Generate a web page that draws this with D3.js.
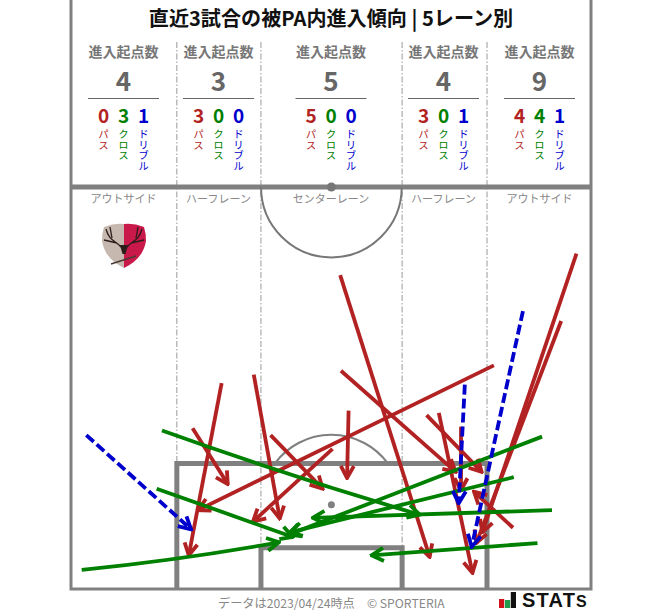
<!DOCTYPE html>
<html><head><meta charset="utf-8">
<script src="https://cdn.jsdelivr.net/npm/d3@7/dist/d3.min.js"></script>
<style>
html,body{margin:0;padding:0;background:#fff}
svg{display:block}
text{font-family:"Noto Sans CJK JP","Noto Sans",sans-serif}
</style></head><body>
<div id="chart"></div>
<script>
// ---- data (metres on the pitch: x across, y from the goal line) ----
const title = "直近3試合の被PA内進入傾向 | 5レーン別";
const lanes = ["アウトサイド","ハーフレーン","センターレーン","ハーフレーン","アウトサイド"];
const laneEdges = [0, 13.84, 24.84, 43.3, 54.4, 68];
const totals = [4,3,5,4,9];
const passCounts = [0,3,5,3,4];
const crossCounts = [3,0,0,0,4];
const dribbleCounts = [1,0,0,1,1];
const typeLabels = ["パス","クロス","ドリブル"];
const headerLabel = "進入起点数";
const passes = [
 [19.7,26.9,15.4,4.4],[15.9,21.0,20.5,13.7],[23.9,28.0,27.3,9.2],
 [26.1,20.1,32.9,13.1],[34.2,18.3,23.8,8.8],[36.3,23.3,36.1,14.5],
 [35.2,41.0,46.9,4.2],[35.3,28.5,50.3,15.3],[46.5,22.7,53.7,15.3],
 [48.1,23.0,52.5,2.1],[51.0,21.2,51.0,12.9],[55.3,29.2,16.6,10.3],
 [57.8,8.0,52.7,12.7],[66.1,43.8,53.8,7.4],[64.1,35.0,53.0,6.0]
];
const crosses = [
 [11.9,20.7,45.6,9.7],[11.2,13.1,29.0,6.8],[1.4,2.5,27.2,6.1],
 [61.6,19.9,28.5,7.1],[57.9,14.6,28.6,7.4],[62.9,10.3,31.6,9.3],[61.0,6.0,39.3,4.4]
];
const crossBends = [0.25,0,0.25,0,0,0,0];
const dribbles = [[2.0,20.1,15.7,7.8],[51.5,26.7,50.7,11.2],[59.1,36.3,52.4,5.5]];
const footer = "データは2023/04/24時点　© SPORTERIA";

// ---- layout ----
const W=663,H=611,RED="#b22222",GREEN="#008000",BLUE="#0000cd",LINE="#808080";
const x=d3.scaleLinear().domain([0,68]).range([71,591]);
const y=d3.scaleLinear().domain([0,52.5]).range([589,187]);
const r=m=>x(m)-x(0);
const svg=d3.select("#chart").append("svg").attr("width",W).attr("height",H);
const defs=svg.append("defs");
[["red",RED],["green",GREEN],["blue",BLUE]].forEach(([id,c])=>{
  defs.append("marker").attr("id","a-"+id).attr("markerUnits","userSpaceOnUse")
   .attr("viewBox","-16 -9 18 18").attr("refX",0).attr("refY",0)
   .attr("markerWidth",18).attr("markerHeight",18).attr("orient","auto")
   .append("path").attr("d","M-12,-6.5L0,0L-12,6.5").attr("fill","none").attr("stroke",c).attr("stroke-width",3.8);
});

// lane separators
svg.append("g").selectAll("line").data(laneEdges.slice(1,-1)).join("line")
  .attr("x1",d=>x(d)).attr("x2",d=>x(d)).attr("y1",42).attr("y2",(d,i)=>(i==1||i==2)?y(5.4):y(16.4))
  .attr("stroke","#999").attr("stroke-width",1).attr("stroke-dasharray","6,2,1.5,2");

// pitch
const pitch=svg.append("g").attr("fill","none").attr("stroke",LINE);
pitch.append("path").attr("d",`M${x(0)},0V${y(0)}H${x(68)}V0`).attr("stroke-width",3);
pitch.append("line").attr("x1",x(0)).attr("x2",x(68)).attr("y1",y(52.5)).attr("y2",y(52.5)).attr("stroke-width",5);
pitch.append("path").attr("d",`M${x(laneEdges[1])},${y(0)}V${y(16.4)}H${x(laneEdges[4])}V${y(0)}`).attr("stroke-width",5);
pitch.append("path").attr("d",`M${x(laneEdges[2])},${y(0)}V${y(5.4)}H${x(laneEdges[3])}V${y(0)}`).attr("stroke-width",5);
const arc=d3.arc();
pitch.append("path").attr("transform",`translate(${x(34.05)},${y(52.5)})`).attr("stroke","#777").attr("stroke-width",2)
  .attr("d",arc({innerRadius:r(9.2),outerRadius:r(9.2),startAngle:Math.PI/2,endAngle:Math.PI*1.5}));
const aa=Math.acos(5.5/9.15);
pitch.append("path").attr("transform",`translate(${x(34.05)},${y(11)})`).attr("stroke","#808080").attr("stroke-width",2)
  .attr("d",arc({innerRadius:r(9.15),outerRadius:r(9.15),startAngle:-aa,endAngle:aa}));
svg.append("circle").attr("cx",x(34.05)).attr("cy",y(52.5)).attr("r",4.5).attr("fill","#777");
svg.append("circle").attr("cx",x(34.05)).attr("cy",y(11)).attr("r",3.5).attr("fill","#808080");

// title
svg.append("text").attr("x",331).attr("y",26).attr("text-anchor","middle")
  .attr("font-size",20.1).attr("font-weight",700).attr("fill","#111").text(title);

// headers
const centers=[123.5,218.5,331,443.5,539.5];
const typeColors=[RED,GREEN,BLUE];
const head=svg.append("g").selectAll("g").data(totals).join("g").attr("transform",(d,i)=>`translate(${centers[i]},0)`);
head.append("text").attr("y",57).attr("text-anchor","middle").attr("font-size",14).attr("font-weight",700).attr("fill","#777").text(headerLabel);
head.append("text").attr("y",91).attr("text-anchor","middle").attr("font-size",26).attr("font-weight",700).attr("fill","#666").text(d=>d);
head.append("line").attr("x1",-35.5).attr("x2",35.5).attr("y1",98.5).attr("y2",98.5).attr("stroke","#666").attr("stroke-width",1);
[passCounts,crossCounts,dribbleCounts].forEach((arr,t)=>{
  const dx=(t-1)*20;
  head.append("text").attr("x",dx).attr("y",123).attr("text-anchor","middle").attr("font-size",19).attr("font-weight",700)
    .attr("fill",typeColors[t]).text((d,i)=>arr[i]);
  head.append("text").attr("transform",`translate(${dx},129)`).attr("writing-mode","vertical-rl").attr("font-size",10.5)
    .attr("fill",typeColors[t]).attr("dominant-baseline","central").text(typeLabels[t]);
});

// lane labels
svg.append("g").selectAll("text").data(lanes).join("text")
  .attr("x",(d,i)=>centers[i]).attr("y",203).attr("text-anchor","middle").attr("font-size",11).attr("fill","#888").text(d=>d);

// emblem
const em=svg.append("g").attr("transform","translate(124,223)");
em.append("path").attr("d","M-20,4Q-10,0 0,1V45Q-19,36 -22,18Q-22,10 -20,4Z").attr("fill","#c6b8ae");
em.append("path").attr("d","M20,4Q10,0 0,1V45Q19,36 22,18Q22,10 20,4Z").attr("fill","#c9184a");
em.append("path").attr("fill","none").attr("stroke","#2b1d1a").attr("stroke-width",1.3)
 .attr("d","M-3,24C-8,18 -15,18 -18,6M-12,15L-14,4M-7,20L-20,17M3,24C8,18 15,18 18,6M12,15L14,4M7,20L20,17");
em.append("path").attr("d","M-4,22H4L1.5,31H-1.5Z").attr("fill","#2b1d1a");
em.append("path").attr("d","M-13,41L12,33").attr("stroke","#4a3a36").attr("stroke-width",1.4);

// arrows
function arrow(g,data,color,id,opts={}){
  g.selectAll("path").data(data).join("path").attr("fill","none").attr("stroke",color).attr("stroke-width",3.8)
   .attr("stroke-dasharray",opts.dash||null).attr("marker-end",`url(#a-${id})`)
   .attr("d",(d,i)=>{
     const x0=x(d[0]),y0=y(d[1]),x1=x(d[2]),y1=y(d[3]);
     const p=d3.path(); p.moveTo(x0,y0);
     const b=opts.bends?r(opts.bends[i])*2:0;
     const len=Math.hypot(x1-x0,y1-y0);
     const sx=x1>x0?1:-1;
     p.quadraticCurveTo((x0+x1)/2-sx*b*(y1-y0)/len,(y0+y1)/2+sx*b*(x1-x0)/len,x1,y1);
     return p.toString();
   });
}
arrow(svg.append("g"),passes,RED,"red");
arrow(svg.append("g"),crosses,GREEN,"green",{bends:crossBends});
arrow(svg.append("g"),dribbles,BLUE,"blue",{dash:"10,4"});

// footer
svg.append("text").attr("x",218).attr("y",608).attr("font-size",12.2).attr("fill","#888").text(footer);
const barsX=d3.scaleBand().domain(["r","g","k"]).range([499,516]).paddingInner(0.12);
const logo=svg.append("g");
logo.selectAll("rect").data([["r",9,"#d0121b"],["g",8,"#1f9d4d"],["k",16,"#111"]]).join("rect")
  .attr("x",d=>barsX(d[0])).attr("width",barsX.bandwidth()).attr("y",d=>608-d[1]).attr("height",d=>d[1]).attr("fill",d=>d[2]);
const st=svg.append("text").attr("x",522).attr("y",607).style("font-family","'Liberation Sans',sans-serif")
  .attr("font-size",20).attr("font-weight",700).attr("letter-spacing",1.2).attr("fill","#111");
st.append("tspan").text("STAT");
st.append("tspan").attr("font-size",16).text("S");
</script></body></html>
